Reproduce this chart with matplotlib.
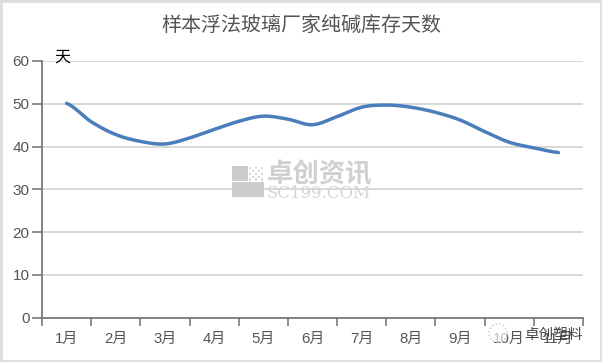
import numpy as np
import matplotlib
matplotlib.use("Agg")
import matplotlib.pyplot as plt
from matplotlib.patches import Rectangle, Circle

plt.rcParams['font.family'] = ['Noto Sans CJK SC', 'DejaVu Sans']

months = ['1月', '2月', '3月', '4月', '5月', '6月', '7月', '8月', '9月', '10月', '11月']
# read every half month off the picture
pos = [0, 0.5, 1, 1.5, 2, 2.5, 3, 3.5, 4, 4.5, 5, 5.5, 6, 6.5, 7, 7.5, 8, 8.5, 9, 9.5, 10]
days = [50.1, 45.8, 42.8, 41.2, 40.6, 42.0, 44.0, 45.9, 47.1, 46.4, 45.1,
        47.0, 49.2, 49.7, 49.2, 48.0, 46.2, 43.5, 41.0, 39.7, 38.6]
yticks = [0, 10, 20, 30, 40, 50, 60]
title = '样本浮法玻璃厂家纯碱库存天数'
label_font = ['Liberation Sans', 'Noto Sans CJK SC']


# catmull-rom through the read points, the source chart has a smoothed line
def smooth(x, y, n=12):
    x = np.array(x, dtype=float)
    y = np.array(y, dtype=float)
    xs = []
    ys = []
    for i in range(len(x) - 1):
        y0 = y[max(i - 1, 0)]
        y1 = y[i]
        y2 = y[i + 1]
        y3 = y[min(i + 2, len(y) - 1)]
        for t in np.linspace(0, 1, n, endpoint=False):
            xs.append(x[i] + t * (x[i + 1] - x[i]))
            ys.append(0.5 * (2 * y1 + (y2 - y0) * t + (2 * y0 - 5 * y1 + 4 * y2 - y3) * t ** 2
                             + (3 * y1 - y0 - 3 * y2 + y3) * t ** 3))
    xs.append(x[-1])
    ys.append(y[-1])
    return xs, ys


W = 602
H = 362
fig = plt.figure(figsize=(W / 100, H / 100), dpi=100, facecolor='white')


def box(px, py, w, h, color):
    fig.add_artist(Rectangle((px / W, 1 - (py + h) / H), w / W, h / H, transform=fig.transFigure,
                             facecolor=color, edgecolor='none'))


# picture border
fig.add_artist(Rectangle((0, 0), 1, 1, transform=fig.transFigure, fill=False,
                         edgecolor='#dedede', linewidth=3.5))

ax = fig.add_axes([42 / W, 1 - 317.6 / H, (583 - 42) / W, (317.6 - 61) / H])
ax.set_xlim(-0.5, 10.5)
ax.set_ylim(0, 60)
ax.set_axisbelow(True)
ax.yaxis.grid(True, color='#d2d2d2', linewidth=1.2)
ax.xaxis.grid(False)
for s in ['top', 'right']:
    ax.spines[s].set_visible(False)
for s in ['left', 'bottom']:
    ax.spines[s].set_color('#6f6f6f')
    ax.spines[s].set_linewidth(1.2)

ax.set_yticks(yticks)
ax.tick_params(axis='y', length=7, width=1.1, color='#6f6f6f', labelcolor='#555555', labelsize=11, pad=2)
for lab in ax.get_yticklabels():
    lab.set_family(label_font)

ax.set_xticks(np.arange(-0.5, 10.6, 1))
ax.set_xticklabels([])
ax.tick_params(axis='x', length=6, width=1.1, color='#6f6f6f')
for i in range(len(months)):
    ax.text(i, -0.056, months[i], transform=ax.get_xaxis_transform(), ha='center', va='top',
            fontsize=10.8, color='#555555', family=label_font)

xs, ys = smooth(pos, days)
ax.plot(xs, ys, color='#4a7ebb', linewidth=2.5, solid_capstyle='round', zorder=3)

fig.text(301.5 / W, 1 - 25.5 / H, title, ha='center', va='center', fontsize=14.4, color='#555555')
fig.text(62.5 / W, 1 - 57 / H, '天', ha='center', va='center', fontsize=11.5, color='black')

# source watermark in the middle
box(232, 166, 15.5, 15, '#cccccc')
box(232, 182, 15.5, 15, '#cccccc')
box(248, 182, 15.5, 15, '#cccccc')
for r in range(5):
    for c in range(5):
        if (r + c) % 2 == 0:
            box(248.5 + c * 3, 166.5 + r * 3, 2.4, 2.4, '#d8d8d8')
fig.text(320 / W, 1 - 174.5 / H, '卓创资讯', ha='center', va='center', fontsize=19, color='#d0d0d0',
         fontweight='bold')
fig.text(319 / W, 1 - 193 / H, 'SC199.COM', ha='center', va='center', fontsize=12, color='#d4d4d4',
         family=['DejaVu Serif', 'Liberation Serif'])

# account mark at the bottom right, sits on top of the 10月 label
fig.add_artist(Circle((498 / 100, (H - 333) / 100), 0.09, transform=fig.dpi_scale_trans,
                      facecolor=(1, 1, 1, 0.65), edgecolor='#c4c4c4', linewidth=1, linestyle=':', zorder=5))
fig.text(553.5 / W, 1 - 335 / H, '卓创塑料', ha='center', va='center', fontsize=10.5, color='#444444', zorder=6)

fig.savefig('out.png', dpi=100)
